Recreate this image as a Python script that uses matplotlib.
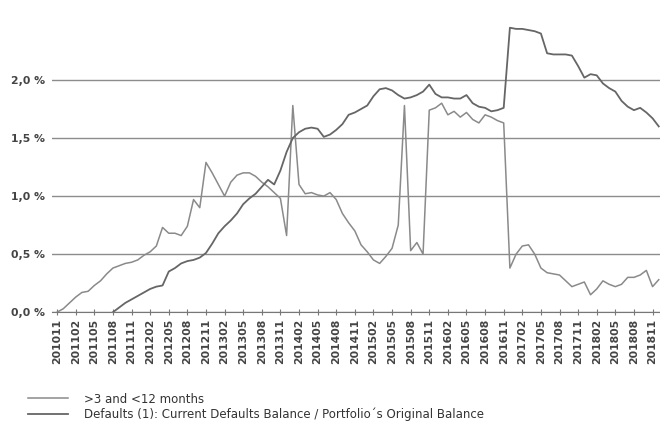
import numpy as np
import matplotlib
matplotlib.use("Agg")
import matplotlib.pyplot as plt

# ==============================
# 1. Data (monthly, 201011 - 201812)
# ==============================
months = []
for y in range(2010, 2019):
    for mo in range(1, 13):
        if (y, mo) >= (2010, 11):
            months.append(f"{y}{mo:02d}")

# >3 and <12 months arrears (%)
arrears_3_12 = [
    0.00, 0.03, 0.08, 0.13, 0.17, 0.18, 0.23, 0.27, 0.33, 0.38,
    0.40, 0.42, 0.43, 0.45, 0.49, 0.52, 0.57, 0.73, 0.68, 0.68,
    0.66, 0.74, 0.97, 0.90, 1.29, 1.20, 1.10, 1.00, 1.12, 1.18,
    1.20, 1.20, 1.17, 1.12, 1.08, 1.03, 0.98, 0.66, 1.78, 1.10,
    1.02, 1.03, 1.01, 1.00, 1.03, 0.97, 0.85, 0.77, 0.70, 0.58,
    0.52, 0.45, 0.42, 0.48, 0.55, 0.75, 1.78, 0.53, 0.60, 0.50,
    1.74, 1.76, 1.80, 1.70, 1.73, 1.68, 1.72, 1.66, 1.63, 1.70,
    1.68, 1.65, 1.63, 0.38, 0.50, 0.57, 0.58, 0.50, 0.38, 0.34,
    0.33, 0.32, 0.27, 0.22, 0.24, 0.26, 0.15, 0.20, 0.27, 0.24,
    0.22, 0.24, 0.30, 0.30, 0.32, 0.36, 0.22, 0.28,
]

# Defaults (1): current defaults balance / original balance (%)
defaults = [np.nan] * 9 + [
    0.00, 0.04, 0.08, 0.11, 0.14, 0.17, 0.20, 0.22, 0.23, 0.35,
    0.38, 0.42, 0.44, 0.45, 0.47, 0.51, 0.59, 0.68, 0.74, 0.79,
    0.85, 0.93, 0.98, 1.02, 1.08, 1.14, 1.10, 1.22, 1.38, 1.50,
    1.55, 1.58, 1.59, 1.58, 1.51, 1.53, 1.57, 1.62, 1.70, 1.72,
    1.75, 1.78, 1.86, 1.92, 1.93, 1.91, 1.87, 1.84, 1.85, 1.87,
    1.90, 1.96, 1.88, 1.85, 1.85, 1.84, 1.84, 1.87, 1.80, 1.77,
    1.76, 1.73, 1.74, 1.76, 2.45, 2.44, 2.44, 2.43, 2.42, 2.40,
    2.23, 2.22, 2.22, 2.22, 2.21, 2.12, 2.02, 2.05, 2.04, 1.97,
    1.93, 1.90, 1.82, 1.77, 1.74, 1.76, 1.72, 1.67, 1.60,
]

labels = [">3 and <12 months",
          "Defaults (1): Current Defaults Balance / Portfolio\u00b4s Original Balance"]

# ==============================
# 2. Plot
# ==============================
fig = plt.figure(figsize=(6.6, 4.3), dpi=100)
ax = fig.add_axes([0.079, 0.274, 0.921, 0.675])

x = np.arange(len(months))
l1, = ax.plot(x, arrears_3_12, color="#8a8a8a", linewidth=1.1)
l2, = ax.plot(x, defaults, color="#666666", linewidth=1.3)

ax.set_xlim(-0.8, len(months) - 0.8)
ax.set_ylim(0, 2.5)
ax.set_yticks([0, 0.5, 1.0, 1.5, 2.0])
ax.set_yticklabels(["0,0 %", "0,5 %", "1,0 %", "1,5 %", "2,0 %"],
                   fontsize=7.8, fontweight="bold", color="#444444")
ax.set_xticks(x[::3])
ax.set_xticklabels(months[::3], rotation=90, fontsize=7.8,
                   fontweight="bold", color="#444444")
ax.tick_params(axis="y", length=0, pad=5)
ax.tick_params(axis="x", direction="inout", length=5, color="#777777", pad=2)

ax.grid(axis="y", color="#8c8c8c", linewidth=1.0)
for s in ["top", "right", "left"]:
    ax.spines[s].set_visible(False)
ax.spines["bottom"].set_color("#777777")
ax.set_axisbelow(True)

fig.legend([l1, l2], labels, loc="upper left", bbox_to_anchor=(0.042, 0.087),
           frameon=False, fontsize=8.5, handlelength=3.4, handletextpad=1.35,
           labelspacing=0.19, borderpad=0, borderaxespad=0,
           labelcolor="#333333")

fig.savefig("out.png", dpi=100, facecolor="white")
